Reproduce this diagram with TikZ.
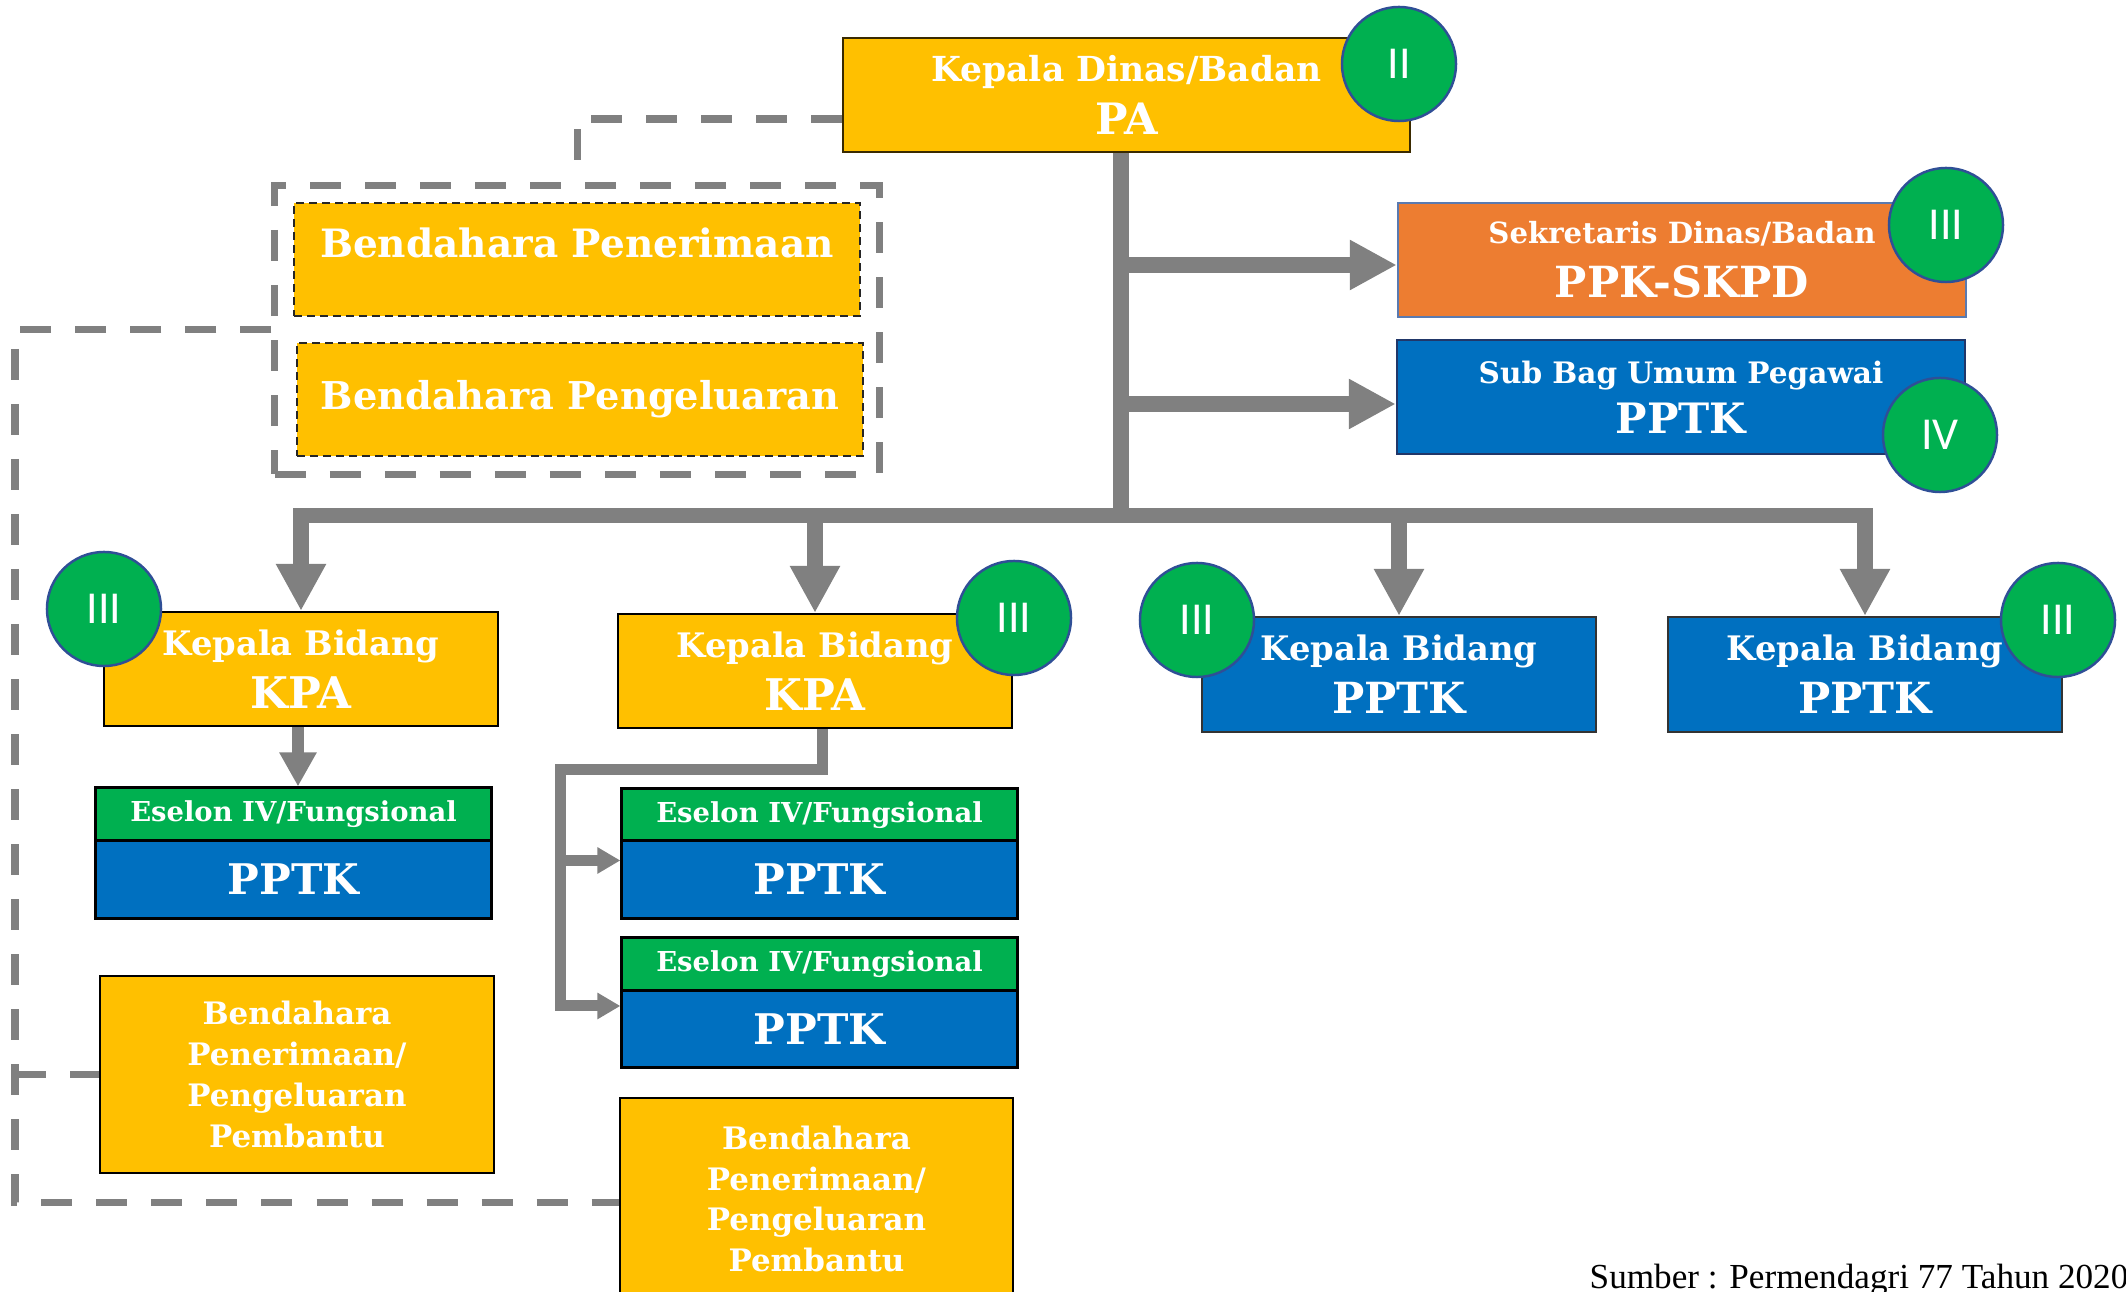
\documentclass[tikz,border=0pt]{standalone}
\usepackage{fontspec}
\setmainfont{DejaVu Serif}
\newfontfamily\numfont{Carlito}
\newfontfamily\srcfont{Liberation Serif}
\usetikzlibrary{arrows.meta}
\definecolor{cyellow}{HTML}{FFC000}
\definecolor{corange}{HTML}{ED7D31}
\definecolor{cblue}{HTML}{0070C0}
\definecolor{cgreen}{HTML}{00B050}
\definecolor{cgray}{HTML}{808080}
\definecolor{cnavy}{HTML}{2F4F96}
\definecolor{cedge}{HTML}{5A7AB0}
\definecolor{cdark}{HTML}{3A2A00}
\newcommand\fs[2]{\fontsize{#1}{#2}\selectfont}
\tikzset{
  box/.style={draw, rectangle, inner sep=0pt, text=white, align=center, font=\bfseries\fs{10}{15}, line width=0.6pt},
  yb/.style={box, fill=cyellow, draw=black},
  bb/.style={box, fill=cblue, draw=cnavy!70!black},
  gb/.style={box, fill=cgreen, draw=black, line width=0.85pt},
  eb/.style={box, fill=cblue, draw=black, line width=0.85pt},
  bbox/.style={box, fill=cyellow, draw=black!85, dash pattern=on 0.08cm off 0.05cm, line width=0.5pt},
  pbox/.style={yb, font=\bfseries\fs{8.8}{11.6}},
  lvl/.style={circle, fill=cgreen, draw=cnavy, line width=0.7pt, minimum size=1.14cm, inner sep=0pt, text=white, font=\numfont\fs{13}{13}},
  gline/.style={draw=cgray, line width=0.155cm},
  bigarrow/.style={gline, -{Triangle[length=0.47cm,width=0.47cm]}},
  midarrowA/.style={draw=cgray, line width=0.12cm, -{Triangle[length=0.34cm,width=0.35cm]}},
  midarrowB/.style={draw=cgray, line width=0.11cm, -{Triangle[length=0.23cm,width=0.25cm]}},
  dline/.style={draw=cgray, line width=0.07cm, dash pattern=on 0.31cm off 0.24cm},
}
\begin{document}
\begin{tikzpicture}[x=0.01cm,y=-0.01cm]
\useasboundingbox (0,0) rectangle (2126,1292);

% top
\node[yb, draw=cdark, minimum width=5.67cm, minimum height=1.14cm] (pa) at (1126.5,95)
  {\fs{9.8}{15}Kepala Dinas/Badan\\\fs{12.3}{15}PA};
\node[lvl] (l1) at (1399,64) {II};

% bendahara group
\node[bbox, minimum width=5.66cm, minimum height=1.13cm, font=\bfseries\fs{11.1}{13}] (bp) at (577,259.5)
  {\raisebox{0.17cm}[\height][\depth]{Bendahara Penerimaan}};
\node[bbox, minimum width=5.66cm, minimum height=1.13cm, font=\bfseries\fs{10.9}{13}] (bk) at (580,399.5)
  {Bendahara Pengeluaran};
\node[dline, rectangle, inner sep=0pt, minimum width=6.04cm, minimum height=2.88cm] (bend) at (577,330) {};

% right side
\node[box, fill=corange, draw=cedge, minimum width=5.68cm, minimum height=1.14cm, font=\bfseries\fs{10}{15.4}] (sk) at (1682,260)
  {\fs{8.3}{15.4}Sekretaris Dinas/Badan\\\fs{12.2}{15.4}PPK-SKPD};
\node[lvl] (l2) at (1946,225) {III};
\node[bb, minimum width=5.68cm, minimum height=1.14cm, font=\bfseries\fs{10}{14.2}] (sb) at (1681,397)
  {\fs{8.4}{14.2}Sub Bag Umum Pegawai\\\fs{11.9}{14.2}PPTK};
\node[lvl] (l3) at (1940,435) {IV};

% kepala bidang
\node[yb, minimum width=3.94cm, minimum height=1.14cm] (k1) at (301,669)
  {\fs{9.6}{15}Kepala Bidang\\\fs{12.4}{15}KPA};
\node[lvl] (l4) at (104,609) {III};
\node[yb, minimum width=3.94cm, minimum height=1.14cm] (k2) at (815,671)
  {\fs{9.6}{15}Kepala Bidang\\\fs{12.4}{15}KPA};
\node[lvl] (l5) at (1014,618) {III};
\node[bb, draw=black!80, minimum width=3.94cm, minimum height=1.15cm] (k3) at (1399,674.5)
  {\fs{9.6}{15}Kepala Bidang\\\fs{12.2}{15}PPTK};
\node[lvl] (l6) at (1197,620) {III};
\node[bb, draw=black!80, minimum width=3.94cm, minimum height=1.15cm] (k4) at (1865,674.5)
  {\fs{9.6}{15}Kepala Bidang\\\fs{12.2}{15}PPTK};
\node[lvl] (l7) at (2058,620) {III};

% eselon
\node[gb, minimum width=3.95cm, minimum height=0.53cm] (e1g) at (293.5,814.5) {\fs{7.8}{8}Eselon IV/Fungsional};
\node[eb, minimum width=3.95cm, minimum height=0.77cm] (e1b) at (293.5,879.5) {\fs{12}{12}PPTK};
\node[gb, minimum width=3.95cm, minimum height=0.52cm] (e2g) at (819.5,815) {\fs{7.8}{8}Eselon IV/Fungsional};
\node[eb, minimum width=3.95cm, minimum height=0.77cm] (e2b) at (819.5,879.5) {\fs{12}{12}PPTK};
\node[gb, minimum width=3.95cm, minimum height=0.53cm] (e3g) at (819.5,964.5) {\fs{7.8}{8}Eselon IV/Fungsional};
\node[eb, minimum width=3.95cm, minimum height=0.76cm] (e3b) at (819.5,1029) {\fs{12}{12}PPTK};

% bendahara pembantu
\node[pbox, minimum width=3.94cm, minimum height=1.97cm] (p1) at (297,1074.5)
  {Bendahara\\Penerimaan/\\Pengeluaran\\Pembantu};
\node[pbox, minimum width=3.93cm, minimum height=2.02cm] (p2) at (816.5,1199)
  {Bendahara\\Penerimaan/\\Pengeluaran\\Pembantu};

% source
\node[anchor=base west, inner sep=0pt, font=\srcfont\fs{10}{11}] (src) at (1589,1289) {Sumber : Permendagri 77 Tahun 2020};

% solid connectors
\coordinate (bus) at (1121,515.5);
\draw[gline] (pa.south -| bus) -- (bus);
\coordinate (skin) at ([yshift=-0.05cm]sk.west);
\coordinate (sbin) at ([yshift=-0.07cm]sb.west);
\draw[bigarrow] (bus |- skin) -- (skin);
\draw[bigarrow] (bus |- sbin) -- (sbin);
\draw[gline, {Triangle[length=0.47cm,width=0.47cm]}-{Triangle[length=0.47cm,width=0.47cm]}]
  (k1.north) -- (k1.north |- bus) -- (k4.north |- bus) -- (k4.north);
\draw[bigarrow] (k2.north |- bus) -- (k2.north);
\draw[bigarrow] (k3.north |- bus) -- (k3.north);
\coordinate (k1s) at ([xshift=-0.03cm]k1.south);
\draw[midarrowA] (k1s) -- (k1s |- e1g.north);
\coordinate (j) at (560,770);
\coordinate (a2) at ([yshift=0.19cm]e2b.west);
\coordinate (a3) at ([yshift=0.23cm]e3b.west);
\draw[midarrowB] ([xshift=0.07cm]k2.south) |- (j) |- (a3);
\draw[midarrowB] (j |- a2) -- (a2);

% dashed connectors
\coordinate (pal) at ([yshift=-0.24cm]pa.west);
\draw[dline] (pal) -| (bend.north);
\coordinate (dl) at (15,1203);
\draw[dline] (bend.west) -| (dl) -- (dl -| p2.west);
\draw[dline] (dl |- p1.west) -- (p1.west);
\end{tikzpicture}
\end{document}
